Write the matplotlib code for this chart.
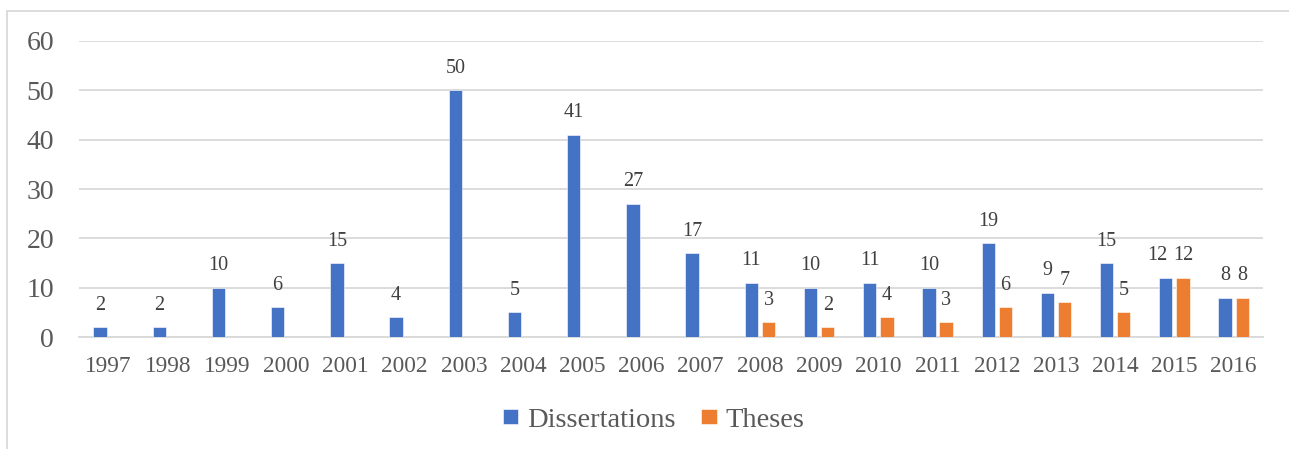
import matplotlib
matplotlib.use("Agg")
import matplotlib.pyplot as plt
from matplotlib.patches import Rectangle
import numpy as np

# data
years = ['1997', '1998', '1999', '2000', '2001', '2002', '2003', '2004', '2005', '2006',
         '2007', '2008', '2009', '2010', '2011', '2012', '2013', '2014', '2015', '2016']
dissertations = [2, 2, 10, 6, 15, 4, 50, 5, 41, 27, 17, 11, 10, 11, 10, 19, 9, 15, 12, 8]
theses = [0, 0, 0, 0, 0, 0, 0, 0, 0, 0, 0, 3, 2, 4, 3, 6, 7, 5, 12, 8]

matplotlib.rcParams['font.family'] = ['Liberation Serif', 'DejaVu Serif']

blue = '#4472C4'
orange = '#ED7D31'
grid_col = '#D9D9D9'
text_col = '#595959'

fig = plt.figure(figsize=(12.89, 4.49), dpi=100)
ax = fig.add_axes([0.0613, 0.2494, 0.9187, 0.6593])

x = np.arange(len(years))
w = 0.225
off = 0.145
b1 = ax.bar(x - off, dissertations, w, color=blue, edgecolor='white', linewidth=0.4,
            label='Dissertations', zorder=3)
b2 = ax.bar(x + off, theses, w, color=orange, edgecolor='white', linewidth=0.4,
            label='Theses', zorder=3)

# data labels (zero values have none); when both labels sit at the same
# height the left one is nudged left, like Excel does
for bars, vals, other in ((b1, dissertations, theses), (b2, theses, None)):
    for r, v, o in zip(bars, vals, other if other else vals):
        if v == 0:
            continue
        dx = -6 if (other is not None and o == v) and v > 9 else 0
        ax.annotate(str(v), (r.get_x() + r.get_width() / 2, v), xytext=(dx, 9),
                    textcoords='offset points', ha='center', va='bottom',
                    fontsize=14.5, color='#404040')

ax.set_xlim(-0.5, len(years) - 0.5)
ax.set_ylim(0, 60)
ax.set_yticks(range(0, 61, 10))
ax.set_xticks(x)
ax.set_xticklabels(years)
ax.tick_params(axis='y', length=0, pad=18, labelsize=20, labelcolor=text_col)
ax.tick_params(axis='x', length=0, pad=14, labelsize=16.8, labelcolor=text_col)
ax.grid(axis='y', color=grid_col, linewidth=1.3, zorder=0)
for s in ['top', 'right', 'left']:
    ax.spines[s].set_visible(False)
ax.spines['bottom'].set_color(grid_col)
ax.spines['bottom'].set_linewidth(1.3)

leg = fig.legend(loc='center', bbox_to_anchor=(0.507, 0.064), ncol=2, frameon=False,
                 fontsize=20.5, handlelength=0.55, handleheight=0.4, handletextpad=0.3,
                 columnspacing=0.9, labelcolor=text_col)

# chart border
fig.patches.append(Rectangle((7 / 1289, -0.05), 1.1, 1 - 11.5 / 449 + 0.05,
                             transform=fig.transFigure, fill=False,
                             edgecolor=grid_col, linewidth=1.3))

plt.savefig('out.png', dpi=100)
